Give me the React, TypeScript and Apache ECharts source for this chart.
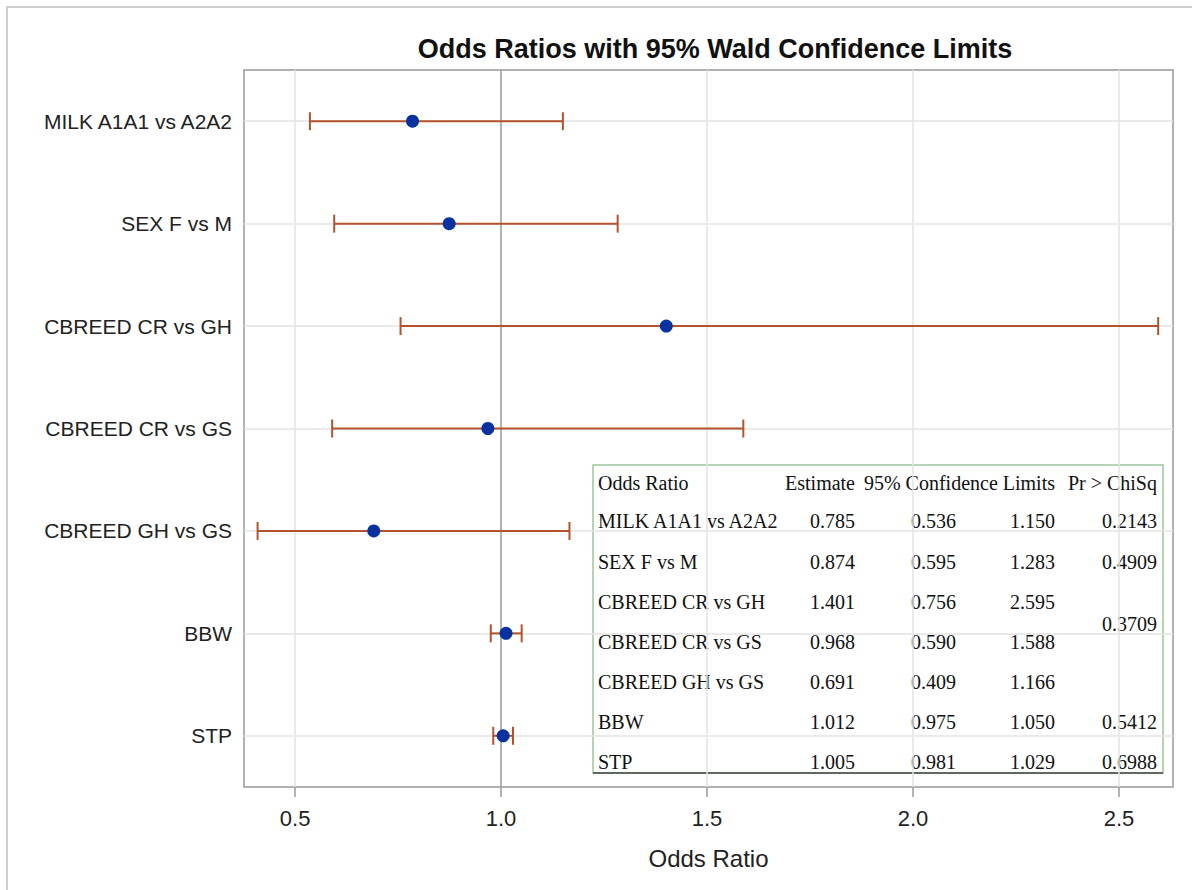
import React, { useEffect, useRef } from "react";
import * as echarts from "echarts";

const categories = [
  "MILK A1A1 vs A2A2",
  "SEX F vs M",
  "CBREED CR vs GH",
  "CBREED CR vs GS",
  "CBREED GH vs GS",
  "BBW",
  "STP",
];
const estimates = [0.785, 0.874, 1.401, 0.968, 0.691, 1.012, 1.005];
const lowerCL = [0.536, 0.595, 0.756, 0.59, 0.409, 0.975, 0.981];
const upperCL = [1.15, 1.283, 2.595, 1.588, 1.166, 1.05, 1.029];
// p-values: [text, first row index, last row index] (CBREED spans rows)
const pValues: [string, number, number][] = [
  ["0.2143", 0, 0],
  ["0.4909", 1, 1],
  ["0.3709", 2, 3],
  ["0.5412", 5, 5],
  ["0.6988", 6, 6],
];
const xTicks = [0.5, 1.0, 1.5, 2.0, 2.5];
const tableHeaders = ["Odds Ratio", "Estimate", "95% Confidence Limits", "Pr > ChiSq"];

const BAR_COLOR = "#B4522C";
const DOT_COLOR = "#0832A0";

export default function App() {
  const ref = useRef<HTMLDivElement>(null);
  useEffect(() => {
    if (!ref.current) return;
    const chart = echarts.init(ref.current, undefined, { renderer: "svg" });

    const serif = "Liberation Serif";
    const tFont = 20;
    const tx = { left: 598, est: 855, lo: 956, hi: 1055, p: 1157 };
    const headerY = 483;
    const rowY = [521, 562, 602, 642, 682, 722, 762];
    const txt = (text: string, x: number, y: number, align: string) => ({
      type: "text",
      x,
      y,
      style: {
        text,
        x: 0,
        y: 0,
        fill: "#111",
        textAlign: align,
        align,
        textVerticalAlign: "middle",
        verticalAlign: "middle",
        fontFamily: serif,
        fontSize: tFont,
      },
    });
    const tableEls: any[] = [
      {
        type: "rect",
        shape: { x: 593, y: 465, width: 570, height: 308 },
        style: { fill: "#fff", stroke: "#9CC79C", lineWidth: 1.5 },
      },
      {
        type: "line",
        shape: { x1: 593, y1: 773, x2: 1163, y2: 773 },
        style: { stroke: "#444", lineWidth: 1.5 },
      },
      txt(tableHeaders[0], tx.left, headerY, "left"),
      txt(tableHeaders[1], tx.est, headerY, "right"),
      txt(tableHeaders[2], tx.hi, headerY, "right"),
      txt(tableHeaders[3], tx.p, headerY, "right"),
    ];
    categories.forEach((c, i) => {
      tableEls.push(txt(c, tx.left, rowY[i], "left"));
      tableEls.push(txt(estimates[i].toFixed(3), tx.est, rowY[i], "right"));
      tableEls.push(txt(lowerCL[i].toFixed(3), tx.lo, rowY[i], "right"));
      tableEls.push(txt(upperCL[i].toFixed(3), tx.hi, rowY[i], "right"));
    });
    pValues.forEach(([t, a, b]) => {
      const y = a === b ? rowY[a] : (rowY[a] + rowY[b]) / 2 + 2;
      tableEls.push(txt(t, tx.p, y, "right"));
    });

    chart.setOption({
      animation: false,
      backgroundColor: "#fff",
      title: {
        text: "Odds Ratios with 95% Wald Confidence Limits",
        left: 710,
        top: 30,
        textAlign: "center",
        textStyle: {
          fontFamily: "Liberation Sans",
          fontWeight: "bold",
          fontSize: 27,
          color: "#111",
        },
      },
      grid: {
        left: 244,
        right: 19,
        top: 70,
        bottom: 103,
        show: true,
        borderColor: "#999",
        borderWidth: 1.5,
        backgroundColor: "#fff",
      },
      xAxis: {
        type: "value",
        min: 0.376,
        max: 2.631,
        name: "Odds Ratio",
        nameLocation: "middle",
        nameGap: 59,
        nameTextStyle: { fontFamily: "Liberation Sans", fontSize: 24, color: "#222" },
        axisLine: { show: false },
        axisTick: {
          show: true,
          customValues: xTicks,
          length: 10,
          lineStyle: { color: "#999", width: 1.5 },
        },
        axisLabel: {
          customValues: xTicks,
          margin: 20,
          fontFamily: "Liberation Sans",
          fontSize: 22,
          color: "#222",
          formatter: (v: number) => v.toFixed(1),
        },
        splitLine: { show: false },
      },
      yAxis: {
        type: "category",
        data: categories,
        inverse: true,
        axisLine: { show: false },
        axisTick: { show: false },
        splitLine: { show: false },
        axisLabel: {
          margin: 12,
          fontFamily: "Liberation Sans",
          fontSize: 21,
          color: "#222",
        },
      },
      graphic: [
        {
          type: "rect",
          shape: { x: 7, y: 7, width: 1300, height: 1000 },
          style: { fill: "none", stroke: "#cfcfcf", lineWidth: 2 },
          z: 0,
        },
        { type: "group", children: tableEls, z: 100 },
      ],
      series: [
        {
          type: "line",
          data: [],
          z: 1,
          silent: true,
          markLine: {
            silent: true,
            z: 1,
            symbol: "none",
            label: { show: false },
            lineStyle: { color: "#e3e3e3", width: 1.5, type: "solid" },
            data: [
              ...xTicks.filter((v) => v !== 1).map((v) => ({ xAxis: v })),
              ...categories.map((c) => ({ yAxis: c })),
              { xAxis: 1, lineStyle: { color: "#9a9a9a", width: 1.5 } },
            ],
          },
        },
        {
          type: "custom",
          z: 10,
          data: categories.map((c, i) => [lowerCL[i], upperCL[i], i]),
          encode: { x: [0, 1], y: 2 },
          renderItem: (params: any, api: any) => {
            const idx = api.value(2);
            const lo = api.coord([api.value(0), idx]);
            const hi = api.coord([api.value(1), idx]);
            const h = 9;
            const st = { stroke: BAR_COLOR, lineWidth: 2 };
            return {
              type: "group",
              children: [
                { type: "line", shape: { x1: lo[0], y1: lo[1], x2: hi[0], y2: hi[1] }, style: st },
                { type: "line", shape: { x1: lo[0], y1: lo[1] - h, x2: lo[0], y2: lo[1] + h }, style: st },
                { type: "line", shape: { x1: hi[0], y1: hi[1] - h, x2: hi[0], y2: hi[1] + h }, style: st },
              ],
            };
          },
        },
        {
          type: "scatter",
          z: 11,
          symbol: "circle",
          symbolSize: 13,
          itemStyle: { color: DOT_COLOR, opacity: 1 },
          data: categories.map((c, i) => [estimates[i], c]),
        },
      ],
    });
    return () => chart.dispose();
  }, []);
  return (
    <div
      ref={ref}
      style={{ position: "absolute", left: 0, top: 0, width: 1192, height: 890, background: "#fff" }}
    />
  );
}
